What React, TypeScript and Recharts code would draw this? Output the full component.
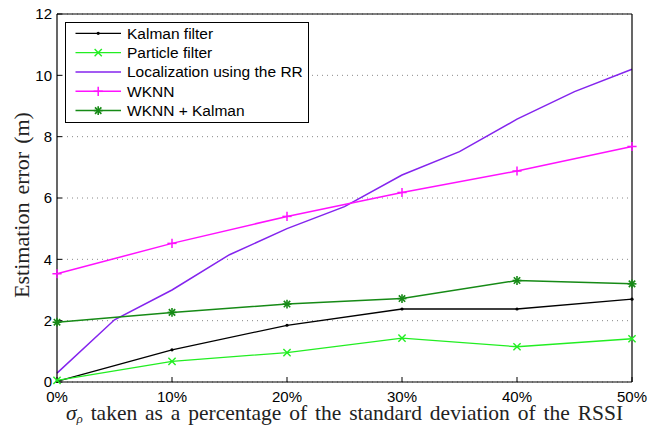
import React from "react";
import {
  LineChart,
  Line,
  XAxis,
  YAxis,
  CartesianGrid,
} from "recharts";

// x positions (percent of RSSI std-dev)
const xPercent = [0, 5, 10, 15, 20, 25, 30, 35, 40, 45, 50];
const xMeasured = [0, 10, 20, 30, 40, 50];
const xTicks = [0, 10, 20, 30, 40, 50];
const yTicks = [0, 2, 4, 6, 8, 10, 12];

// series values
const kalmanFilter = [0.02, 1.05, 1.85, 2.38, 2.38, 2.7];
const particleFilter = [0.05, 0.67, 0.96, 1.43, 1.15, 1.41];
const localizationRR = [0.29, 2.03, 3.0, 4.15, 5.0, 5.72, 6.75, 7.51, 8.57, 9.47, 10.2];
const wknn = [3.53, 4.52, 5.4, 6.18, 6.88, 7.68];
const wknnKalman = [1.95, 2.27, 2.54, 2.72, 3.31, 3.2];

const seriesNames = [
  "Kalman filter",
  "Particle filter",
  "Localization using the RR",
  "WKNN",
  "WKNN + Kalman",
];

type Marker = "dot" | "x" | "plus" | "star" | "none";

const series: { key: string; name: string; color: string; marker: Marker; width: number }[] = [
  { key: "kalman", name: seriesNames[0], color: "#000000", marker: "dot", width: 1.3 },
  { key: "particle", name: seriesNames[1], color: "#22ee22", marker: "x", width: 1.3 },
  { key: "rr", name: seriesNames[2], color: "#8424ee", marker: "none", width: 1.5 },
  { key: "wknn", name: seriesNames[3], color: "#ff11ff", marker: "plus", width: 1.5 },
  { key: "wknnKalman", name: seriesNames[4], color: "#168a16", marker: "star", width: 1.5 },
];

const data = xPercent.map((x, i) => {
  const j = xMeasured.indexOf(x);
  return {
    x,
    rr: localizationRR[i],
    kalman: j >= 0 ? kalmanFilter[j] : null,
    particle: j >= 0 ? particleFilter[j] : null,
    wknn: j >= 0 ? wknn[j] : null,
    wknnKalman: j >= 0 ? wknnKalman[j] : null,
  };
});

function markerShape(kind: Marker, color: string, cx: number, cy: number, key?: string) {
  if (kind === "dot") {
    return <circle key={key} cx={cx} cy={cy} r={1.6} fill={color} stroke="none" />;
  }
  if (kind === "x") {
    const s = 3.6;
    return (
      <g key={key} stroke={color} strokeWidth={1.4}>
        <line x1={cx - s} y1={cy - s} x2={cx + s} y2={cy + s} />
        <line x1={cx - s} y1={cy + s} x2={cx + s} y2={cy - s} />
      </g>
    );
  }
  if (kind === "plus") {
    const s = 4.6;
    return (
      <g key={key} stroke={color} strokeWidth={1.5}>
        <line x1={cx - s} y1={cy} x2={cx + s} y2={cy} />
        <line x1={cx} y1={cy - s} x2={cx} y2={cy + s} />
      </g>
    );
  }
  if (kind === "star") {
    const s = 4.4;
    const d = 3.2;
    return (
      <g key={key} stroke={color} strokeWidth={1.6}>
        <line x1={cx - s} y1={cy} x2={cx + s} y2={cy} />
        <line x1={cx} y1={cy - s} x2={cx} y2={cy + s} />
        <line x1={cx - d} y1={cy - d} x2={cx + d} y2={cy + d} />
        <line x1={cx - d} y1={cy + d} x2={cx + d} y2={cy - d} />
      </g>
    );
  }
  return <g key={key} />;
}

const sansFont = "'Liberation Sans', Arial, Helvetica, sans-serif";
const serifFont = "'Liberation Serif', 'Times New Roman', Times, serif";

function XLabel(props: any) {
  const vb = props.viewBox || {};
  const cx = vb.x + vb.width / 2;
  const y = vb.y + 38;
  return (
    <text
      x={cx}
      y={y}
      textAnchor="middle"
      fontFamily={serifFont}
      fontSize={21.5}
      fill="#222"
      style={{ wordSpacing: "2.5px" }}
    >
      <tspan fontStyle="italic">σ</tspan>
      <tspan fontStyle="italic" fontSize={13} dy={2.5}>ρ</tspan>
      <tspan dy={-2.5}> taken as a percentage of the standard deviation of the RSSI</tspan>
    </text>
  );
}

function YLabel(props: any) {
  const vb = props.viewBox || {};
  const x = 28.5;
  const y = vb.y + vb.height / 2 + 7;
  return (
    <text
      x={x}
      y={y}
      transform={`rotate(-90, ${x}, ${y})`}
      textAnchor="middle"
      fontFamily={serifFont}
      fontSize={22}
      fill="#222"
      style={{ wordSpacing: "2.5px" }}
    >
      Estimation error (m)
    </text>
  );
}

function LegendBox() {
  const rowStart = 11.3;
  const rowStep = 19.33;
  return (
    <svg
      width={245}
      height={102}
      style={{ position: "absolute", left: 64.5, top: 22.2 }}
    >
      <rect x={0.5} y={0.5} width={243} height={100} fill="#ffffff" stroke="#000" strokeWidth={1} />
      {series.map((s, i) => {
        const cy = rowStart + i * rowStep;
        return (
          <g key={s.key}>
            <line x1={10.5} y1={cy} x2={56} y2={cy} stroke={s.color} strokeWidth={s.width} />
            {markerShape(s.marker, s.color, 33.2, cy)}
            <text
              x={62}
              y={cy + 5.4}
              fontFamily={sansFont}
              fontSize={15.5}
              fill="#000"
            >
              {s.name}
            </text>
          </g>
        );
      })}
    </svg>
  );
}

export default function App() {
  const tickStyle = { fontFamily: sansFont, fontSize: 15, fill: "#000" };
  return (
    <div style={{ position: "absolute", left: 0, top: 0, width: 665, height: 425, background: "#fff" }}>
      <LineChart
        width={665}
        height={425}
        data={data}
        margin={{ top: 0, right: 0, bottom: 0, left: 0 }}
      >
        <CartesianGrid
          vertical={false}
          stroke="#888"
          strokeDasharray="1 4"
          strokeWidth={1}
        />
        <XAxis
          dataKey="x"
          type="number"
          domain={[0, 50]}
          ticks={xTicks}
          tickFormatter={(v: number) => `${v}%`}
          height={43}
          tickSize={-5}
          tickMargin={14}
          axisLine={{ stroke: "#000", strokeWidth: 1.2 }}
          tickLine={{ stroke: "#000", strokeWidth: 1 }}
          tick={tickStyle}
          interval={0}
          label={<XLabel />}
        />
        <XAxis
          xAxisId="top"
          orientation="top"
          dataKey="x"
          type="number"
          domain={[0, 50]}
          ticks={xTicks}
          height={14}
          tickSize={-5}
          tick={false}
          axisLine={{ stroke: "#000", strokeWidth: 1.2 }}
          tickLine={{ stroke: "#000", strokeWidth: 1 }}
        />
        <YAxis
          type="number"
          domain={[0, 12]}
          ticks={yTicks}
          width={57}
          tickSize={-5}
          tickMargin={10}
          axisLine={{ stroke: "#000", strokeWidth: 1.2 }}
          tickLine={{ stroke: "#000", strokeWidth: 1 }}
          tick={tickStyle}
          interval={0}
          label={<YLabel />}
        />
        <YAxis
          yAxisId="right"
          orientation="right"
          type="number"
          domain={[0, 12]}
          ticks={yTicks}
          width={33}
          tickSize={-5}
          tick={false}
          axisLine={{ stroke: "#000", strokeWidth: 1.2 }}
          tickLine={{ stroke: "#000", strokeWidth: 1 }}
        />
        {series.map((s) => (
          <Line
            key={s.key}
            dataKey={s.key}
            name={s.name}
            type="linear"
            stroke={s.color}
            strokeWidth={s.width}
            connectNulls
            isAnimationActive={false}
            activeDot={false}
            dot={(p: any) => {
              const k = `${s.key}-${p.index}`;
              if (p.value == null || p.cy == null || s.marker === "none") return <g key={k} />;
              return markerShape(s.marker, s.color, p.cx, p.cy, k);
            }}
          />
        ))}
      </LineChart>
      <LegendBox />
    </div>
  );
}
